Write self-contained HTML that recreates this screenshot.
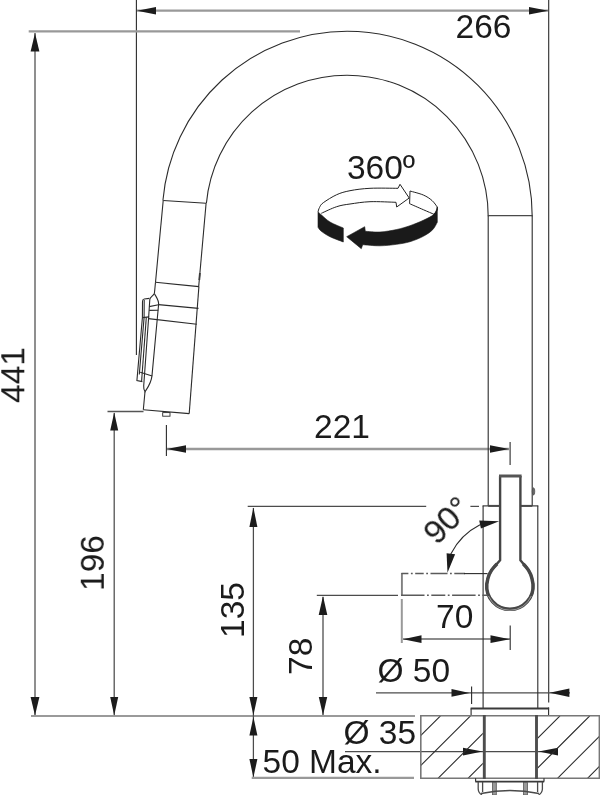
<!DOCTYPE html>
<html>
<head>
<meta charset="utf-8">
<title>Faucet dimension drawing</title>
<style>
html,body{margin:0;padding:0;background:#fff;}
body{width:600px;height:795px;overflow:hidden;font-family:"Liberation Sans",sans-serif;}
svg{display:block;}
text{font-family:"Liberation Sans",sans-serif;font-size:33.5px;fill:#1a1a1a;}
.d{stroke:#999;stroke-width:2.3;fill:none;}
.k{stroke:#4c4c4c;stroke-width:1.25;fill:none;}
.m{stroke:#787878;stroke-width:1.7;fill:none;}
.dv{stroke:#8a8a8a;stroke-width:1.9;fill:none;}
.o{stroke:#2b2b2b;stroke-width:1.1;fill:none;}
.t{stroke:#3a3a3a;stroke-width:2.4;fill:none;}
.a{fill:#1c1c1c;stroke:none;}
.h{stroke:#2b2b2b;stroke-width:1.1;fill:none;}
.c{stroke:#4a4a4a;stroke-width:1.3;fill:none;}
</style>
</head>
<body>
<svg width="600" height="795" viewBox="0 0 600 795">
<rect width="600" height="795" fill="#fff"/>

<!-- ===== DIMENSION LINES ===== -->
<g id="dims">
<!-- 266 -->
<line class="d" x1="137" y1="10.7" x2="548" y2="10.7"/>
<polygon class="a" points="137,10.7 156,7 156,14.4"/>
<polygon class="a" points="548.3,10.7 529,7 529,14.4"/>
<line class="o" x1="136.4" y1="0" x2="136.4" y2="355"/>
<line class="o" x1="548.7" y1="0" x2="548.7" y2="702.5"/>
<!-- top ext line -->
<line class="d" x1="28.7" y1="31.4" x2="300" y2="31.4"/>
<!-- 441 -->
<line class="dv" x1="35" y1="33" x2="35" y2="715"/>
<polygon class="a" points="35,33 30.6,51.5 39.4,51.5"/>
<polygon class="a" points="35,715.5 30.6,697 39.4,697"/>
<!-- base line -->
<line class="m" x1="31" y1="716" x2="415" y2="716"/>
<!-- 196 -->
<line x1="107.5" y1="411.6" x2="143.5" y2="411.6" stroke="#555" stroke-width="1.5"/>
<line class="k" x1="114.2" y1="413" x2="114.2" y2="715"/>
<polygon class="a" points="114.2,412.5 110.2,430.5 118.2,430.5"/>
<polygon class="a" points="114.2,715.5 110.2,697 118.2,697"/>
<!-- 221 -->
<line class="o" x1="166.4" y1="425" x2="166.4" y2="456"/>
<line class="d" x1="167" y1="449" x2="509" y2="449"/>
<polygon class="a" points="166.6,449 186,445.2 186,452.8"/>
<polygon class="a" points="509.2,449 490,445.2 490,452.8"/>
<line class="o" x1="510.1" y1="442" x2="510.1" y2="465"/>
<!-- 135 -->
<line class="k" x1="247.7" y1="506.4" x2="426.2" y2="506.4"/>
<line class="k" x1="470.4" y1="506.4" x2="479" y2="506.4"/>
<line class="k" x1="253.4" y1="508" x2="253.4" y2="777"/>
<polygon class="a" points="253.4,507.5 249.4,527 257.4,527"/>
<polygon class="a" points="253.4,715.3 249.4,697 257.4,697"/>
<!-- 50 Max -->
<polygon class="a" points="253.4,717 249.4,735.5 257.4,735.5"/>
<polygon class="a" points="253.4,777.5 249.4,759 257.4,759"/>
<line class="d" x1="251.7" y1="777.8" x2="414" y2="777.8"/>
<!-- 78 -->
<line class="k" x1="316.8" y1="595.4" x2="398" y2="595.4"/>
<line class="m" x1="323" y1="597" x2="323" y2="715"/>
<polygon class="a" points="323,596 318.7,615 327.3,615"/>
<polygon class="a" points="323,715.3 318.8,697 327.2,697"/>
<!-- 70 -->
<line class="d" x1="401.8" y1="599" x2="401.8" y2="643" style="stroke-width:2"/>
<line class="m" x1="403" y1="639" x2="510" y2="639" style="stroke:#666;stroke-width:1.5"/>
<polygon class="a" points="403,639.2 421.5,635.3 421.5,643.1"/>
<polygon class="a" points="509.8,639.2 490.5,635.3 490.5,643.1"/>
<line class="o" x1="510.2" y1="625.5" x2="510.2" y2="650"/>
<!-- Ø50 -->
<line class="k" x1="376" y1="692.9" x2="570" y2="692.9"/>
<polygon class="a" points="469.6,692.9 451.5,689.1 451.5,696.7"/>
<line class="o" x1="471.6" y1="686.5" x2="471.6" y2="704"/>
<polygon class="a" points="549.6,692.8 569.4,688.6 569.4,697"/>
<!-- Ø35 -->
<line class="k" x1="345" y1="751.6" x2="558" y2="751.6"/>
<polygon class="a" points="482.6,751.6 463,747.7 463,755.5"/>
<polygon class="a" points="538.6,751.6 558,747.7 558,755.5"/>
</g>

<!-- ===== TEXT ===== -->
<g id="txt" opacity="0.995">
<text id="t266" x="455.5" y="38.3">266</text>
<text id="t360" x="346.9" y="179.3">360º</text>
<text id="t441" transform="translate(24.3,403) rotate(-90)">441</text>
<text id="t196" transform="translate(103.8,591) rotate(-90)">196</text>
<text id="t221" x="314" y="438.3">221</text>
<text id="t135" transform="translate(244.3,638) rotate(-90)">135</text>
<text id="t78" transform="translate(312.3,675) rotate(-90)">78</text>
<text id="t90" transform="translate(447,520.5) rotate(-45)" text-anchor="middle" y="11">90°</text>
<text id="t70" x="436" y="628">70</text>
<text id="t50" x="377.5" y="682">Ø 50</text>
<text id="t35" x="343.5" y="744">Ø 35</text>
<text id="tmax" x="262.5" y="772.6">50 Max.</text>
</g>

<!-- ===== FAUCET ===== -->
<g id="faucet">
<!-- arcs -->
<path class="o" d="M162.9,200.5 A185.1,185.1 0 0 1 347.1,31.2 A185.1,185.1 0 0 1 532.2,216.3"/>
<path class="o" d="M206.4,203.3 A141.1,141.1 0 0 1 347.1,75.2 A141.1,141.1 0 0 1 488.2,216.3"/>
<line class="c" x1="488.2" y1="215.6" x2="532.3" y2="215.6"/>
<line class="o" x1="488.2" y1="215.6" x2="488.2" y2="505.7"/>
<line class="o" x1="532.2" y1="215.6" x2="532.2" y2="505.7"/>
<!-- spray head upper -->
<line class="o" x1="163.2" y1="200.5" x2="206.1" y2="203.3"/>
<line class="o" x1="163.2" y1="200.5" x2="155.5" y2="282.3"/>
<line class="o" x1="206.1" y1="203.3" x2="198.7" y2="286.6"/>
<line class="o" x1="155.5" y1="282.3" x2="198.9" y2="286.6"/>
<line class="t" x1="199.9" y1="273" x2="199.3" y2="280" style="stroke-width:1.8"/>

<!-- spray head lower -->
<line class="o" x1="198.9" y1="286.6" x2="189.2" y2="413.6"/>
<line class="o" x1="155.5" y1="282.3" x2="154.4" y2="293.5"/>
<line class="o" x1="145" y1="391.8" x2="143.3" y2="409.7"/>
<line class="o" x1="143.3" y1="409.7" x2="189.2" y2="413.6"/>
<line class="o" x1="158.5" y1="304.6" x2="198.5" y2="308.4"/>
<line class="o" x1="149.2" y1="306.6" x2="158.5" y2="304.8"/>
<line class="o" x1="149.2" y1="310.4" x2="158.3" y2="310.2"/>
<line class="o" x1="148.4" y1="318.6" x2="196.8" y2="324.3"/>
<!-- teardrop / button -->
<path class="o" d="M154.4,293.5 C152.5,296.5 150,297 149.8,299.5 L148.5,319.5 L143.7,386"/>
<path class="o" d="M154.4,293.5 C156,297 159,300 158.6,304.5 L152,375.6 C151.3,383 147.5,388 145,391.8 C143.8,389.5 143.5,388 143.7,386"/>
<path class="o" d="M149.4,298.4 L144.2,299 C142.7,299.2 142.5,300 142.5,301.5 L142.4,317.5 L136.9,380.6 L142.4,381.6"/>
<path class="o" d="M144.2,300 L144.1,317.4 L139.3,374.5"/>
<line class="o" x1="142.4" y1="317.6" x2="149.2" y2="316.9"/>
<path class="o" d="M146.3,317.2 L141.6,381"/>
<line class="o" x1="140.2" y1="372.3" x2="152.2" y2="376"/>
<rect class="o" x="162.7" y="412.6" width="7.3" height="3.6" style="stroke-width:0.9"/>

<!-- body -->
<line class="o" x1="483.1" y1="505.7" x2="483.1" y2="708.3"/>
<line class="o" x1="537.8" y1="505.7" x2="537.8" y2="708.3"/>
<line class="o" x1="482.6" y1="505.9" x2="500" y2="505.9"/>
<line class="o" x1="520.5" y1="505.9" x2="538.3" y2="505.9"/>
<line class="c" x1="488.2" y1="505.9" x2="500" y2="505.9" style="stroke-width:2"/>
<line class="c" x1="520.5" y1="505.9" x2="532.3" y2="505.9" style="stroke-width:2"/>
<ellipse cx="533.5" cy="491.4" rx="1.3" ry="3.6" fill="#666" stroke="#444" stroke-width="0.6"/>
<!-- handle -->
<path d="M500.1,476 V560.3 L494.2,566.9 C490.6,570.6 487.8,576 486.8,584 A23.2,23.2 0 1 0 533,584 C532,576 529.4,570.6 526,566.9 L520.4,560.3 V476" fill="#fff" stroke="#454545" stroke-width="2.4" stroke-linejoin="round"/>
<path d="M497,563.8 L494.2,566.9 C490.6,570.6 487.8,576 486.8,584 A23.2,23.2 0 1 0 533,584 C532,576 529.4,570.6 526,566.9 L523.3,563.8" fill="none" stroke="#484848" stroke-width="3.5" stroke-linejoin="round"/>
<path d="M488.5,596 A23.2,23.2 0 0 0 531.3,596" fill="none" stroke="#b0b0b0" stroke-width="0.8"/>
<line x1="499" y1="476" x2="521.6" y2="476" stroke="#555" stroke-width="3"/>

<!-- flange -->
<line class="o" x1="471.1" y1="708.4" x2="471.1" y2="715.8"/>
<line class="o" x1="548.6" y1="707.5" x2="548.6" y2="715.8"/>
<line x1="470.6" y1="708.4" x2="549.1" y2="708.4" stroke="#3a3a3a" stroke-width="2"/>
<!-- block -->
<g clip-path="url(#blk)">
<g class="h">
<path d="M378,778.3 l62.5,-62.5 M408,778.3 l62.5,-62.5 M438,778.3 l62.5,-62.5 M468,778.3 l62.5,-62.5 M497.5,778.3 l62.5,-62.5 M527.3,778.3 l62.5,-62.5 M557.5,778.3 l62.5,-62.5 M587.5,778.3 l62.5,-62.5"/>
</g>
</g>
<path class="d" d="M600,715.8 H420.8 V778.2 H600" style="stroke:#777;stroke-width:1.6"/>
<line x1="599.3" y1="715.8" x2="599.3" y2="778.2" stroke="#777" stroke-width="1.4"/>
<line x1="484.3" y1="715" x2="484.3" y2="779" stroke="#4d4d4d" stroke-width="2.9"/>
<line x1="536.5" y1="715" x2="536.5" y2="779" stroke="#4d4d4d" stroke-width="2.9"/>
<!-- nut -->
<line x1="475.3" y1="781.6" x2="544.2" y2="781.6" stroke="#3a3a3a" stroke-width="1.8"/>
<line class="o" x1="475.6" y1="778.2" x2="475.6" y2="781.6"/>
<line class="o" x1="544" y1="778.2" x2="544" y2="781.6"/>
<path class="c" d="M478.2,782 V789 Q478.4,793 482,795 M542.4,782 V789 Q542.2,793 538.6,795"/>
<path class="c" d="M482.6,782 V792 M537.6,782 V792"/>
<rect x="492.5" y="782.4" width="3.8" height="12.6" fill="#9a9a9a" stroke="#555" stroke-width="0.8"/>
<rect x="523.6" y="782.4" width="3.8" height="12.6" fill="#9a9a9a" stroke="#555" stroke-width="0.8"/>
<path class="c" d="M481,793.5 Q510,787.5 539,793.5" style="stroke-width:1.6"/>

<!-- phantom handle -->
<line x1="401.9" y1="573" x2="401.9" y2="595.5" stroke="#808080" stroke-width="1.9"/>
<path d="M401.4,573.6 H465" fill="none" stroke="#5a5a5a" stroke-width="1.5" stroke-dasharray="7 2.5 1.8 2.5 8.5 2.5 1.8 2.5 17 2.5 1.8 2.5 12 30"/>
<line class="o" x1="464" y1="573.6" x2="487.5" y2="573.6"/>
<path d="M401,595.2 H487.5" fill="none" stroke="#5a5a5a" stroke-width="1.5" stroke-dasharray="23.5 2.5 1.8 2.5 14 2.5 1.8 2.5"/>
<!-- 90 arc -->
<path class="o" d="M480,524.8 A67,67 0 0 0 450.8,553.9"/>
<polygon class="a" points="499.2,521.2 479.2,520.6 480.9,528.5"/>
<polygon class="a" points="447.5,572.8 446.6,553.2 455.1,554.3"/>

<!-- 360 icon -->
<path d="M318.0,212.0 C318.2,211.2 318.6,209.1 319.5,207.5 C320.4,205.9 320.4,204.8 323.3,202.7 C326.2,200.6 332.2,196.7 336.7,194.7 C341.1,192.7 344.4,191.8 350.0,190.7 C355.6,189.6 362.0,188.7 370.0,188.3 C378.0,187.9 393.3,188.3 398.0,188.3 L400,184.3 L409.2,198 L396.7,207 L396.0,202.3 C391.7,202.2 377.7,201.4 370.0,201.7 C362.3,202.0 355.6,203.2 350.0,204.0 C344.4,204.8 341.5,205.1 336.7,206.7 C331.9,208.2 323.9,212.2 321.3,213.3" fill="#fff" stroke="#222" stroke-width="1"/>
<path d="M410.0,191.0 C412.2,191.7 419.6,193.4 423.3,195.0 C427.0,196.6 429.7,198.5 432.0,200.5 C434.3,202.5 436.4,205.9 437.3,207.0 L437.3,210 L434.0,214.3 C432.2,213.5 427.4,211.5 423.3,209.7 C419.2,207.9 411.9,204.7 409.6,203.7 Z" fill="#fff" stroke="#222" stroke-width="1"/>
<path d="M318.0,212.0 C318.6,212.5 319.5,213.3 321.5,215.0 C323.5,216.7 326.4,219.8 330.0,222.0 C333.6,224.2 341.1,227.0 343.3,228.0 L343.3,242.0 C341.1,241.1 333.7,238.5 330.0,236.7 C326.3,234.9 323.0,232.6 321.0,231.0 C319.0,229.4 318.5,227.9 318.0,227.3 Z" fill="#1a1a1a" stroke="#1a1a1a" stroke-width="0.6"/>
<path d="M346.7,236.7 L364.7,226.7 L365.3,231.3 C367.8,231.4 374.8,232.3 380.0,232.0 C385.2,231.7 391.7,230.6 396.7,229.5 C401.7,228.4 405.6,227.2 410.0,225.7 C414.4,224.2 419.3,222.2 423.3,220.3 C427.3,218.4 431.7,216.5 434.0,214.3 C436.3,212.1 436.8,208.2 437.3,207.0 L437.3,222.3 C436.5,223.5 435.0,227.4 432.7,229.7 C430.4,232.0 427.1,234.3 423.3,236.3 C419.5,238.3 414.4,240.4 410.0,241.7 C405.6,243.0 401.7,243.6 396.7,244.3 C391.7,245.0 385.7,245.7 380.0,245.8 C374.3,245.9 365.6,244.9 362.7,244.7 L361.3,248.7 Z" fill="#1a1a1a" stroke="#1a1a1a" stroke-width="0.6"/>
</g>
<defs><clipPath id="blk"><rect x="420.8" y="715.8" width="62" height="62.5"/><rect x="538" y="715.8" width="62" height="62.5"/></clipPath></defs>
</svg>
</body>
</html>
